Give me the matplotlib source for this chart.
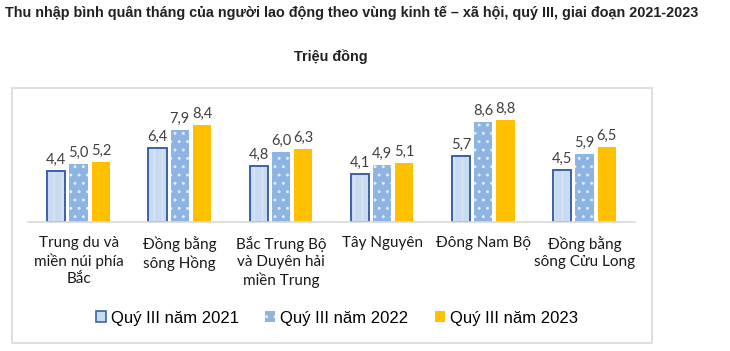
import matplotlib
matplotlib.use("Agg")
import matplotlib.pyplot as plt
from matplotlib.patches import Rectangle, Patch
import numpy as np

categories = ["Trung du và\nmiền núi phía\nBắc", "Đồng bằng\nsông Hồng", "Bắc Trung Bộ\nvà Duyên hải\nmiền Trung",
              "Tây Nguyên", "Đông Nam Bộ", "Đồng bằng\nsông Cửu Long"]
series_names = ["Quý III năm 2021", "Quý III năm 2022", "Quý III năm 2023"]
v2021 = [4.4, 6.4, 4.8, 4.1, 5.7, 4.5]
v2022 = [5.0, 7.9, 6.0, 4.9, 8.6, 5.9]
v2023 = [5.2, 8.4, 6.3, 5.1, 8.8, 6.5]
title = "Thu nhập bình quân tháng của người lao động theo vùng kinh tế – xã hội, quý III, giai đoạn 2021-2023"
subtitle = "Triệu đồng"

W, H = 730, 351
fig = plt.figure(figsize=(W / 100, H / 100), dpi=100)
fig.patch.set_facecolor("white")

# outer chart box
fig.patches.append(Rectangle((12 / W, 1 - 343 / H), (652 - 12) / W, (343 - 88) / H,
                             transform=fig.transFigure, fill=False, edgecolor="#D9D9D9", lw=1.2))

ax = fig.add_axes([28 / W, 1 - 222 / H, (635 - 28) / W, (222 - 106) / H])
ax.set_xlim(-0.5, len(categories) - 0.5)
ax.set_ylim(0, 10)

x = np.arange(len(categories))
bw = 0.18
gap = 0.04
off = bw + gap

c21_face = "#C8DBF1"
c21_edge = "#3A62AA"
c22_face = "#8DB4E2"
c23_face = "#FFC000"

plt.rcParams["hatch.linewidth"] = 0.9
# 2021: light fill with faint vertical texture plus dark outline
ax.bar(x - off, v2021, bw, color=c21_face, edgecolor="#DCE7F5", hatch="||", linewidth=0)
ax.bar(x - off, v2021, bw, fill=False, edgecolor=c21_edge, linewidth=1.4)
# 2022: dotted blue
ax.bar(x, v2022, bw, color=c22_face, edgecolor="#E6EEF8", hatch="..", linewidth=0)
# 2023: gold
ax.bar(x + off, v2023, bw, color=c23_face, linewidth=0)

lab_font = dict(family=["Lato", "DejaVu Sans"], fontsize=10.5, color="#404040")
for xs, vals in [(x - off, v2021), (x, v2022), (x + off, v2023)]:
    for xi, v in zip(xs, vals):
        ax.annotate(f"{v:.1f}".replace(".", ","), (xi, v), xytext=(0, 3), textcoords="offset points",
                    ha="center", va="bottom", **lab_font)

for s in ["top", "right", "left"]:
    ax.spines[s].set_visible(False)
ax.spines["bottom"].set_color("#D9D9D9")
ax.spines["bottom"].set_linewidth(1.2)
ax.set_yticks([])
ax.set_xticks(x)
ax.set_xticklabels(categories, family=["Lato", "DejaVu Sans"], fontsize=11, color="#1a1a1a",
                   linespacing=1.3)
ax.tick_params(axis="x", length=0, pad=10)

fig.text(5 / W, 1 - 13 / H, title, ha="left", va="center", fontsize=10.4, fontweight="bold",
         family=["Liberation Sans", "DejaVu Sans"], color="#222222")
fig.text(331 / W, 1 - 57 / H, subtitle, ha="center", va="center", fontsize=10.4, fontweight="bold",
         family=["Liberation Sans", "DejaVu Sans"], color="#222222")

handles = [Patch(facecolor=c21_face, edgecolor=c21_edge, linewidth=1.2),
           Patch(facecolor=c22_face, edgecolor="#E6EEF8", hatch="..", linewidth=0),
           Patch(facecolor=c23_face, linewidth=0)]
fig.legend(handles, series_names, loc="center", bbox_to_anchor=(337 / W, 1 - 318 / H), ncol=3,
           frameon=False, prop=dict(family=["Liberation Sans", "DejaVu Sans"], size=12),
           handlelength=0.6, handleheight=0.6, handletextpad=0.3, columnspacing=1.6)

fig.savefig("out.png", dpi=100, facecolor="white")
